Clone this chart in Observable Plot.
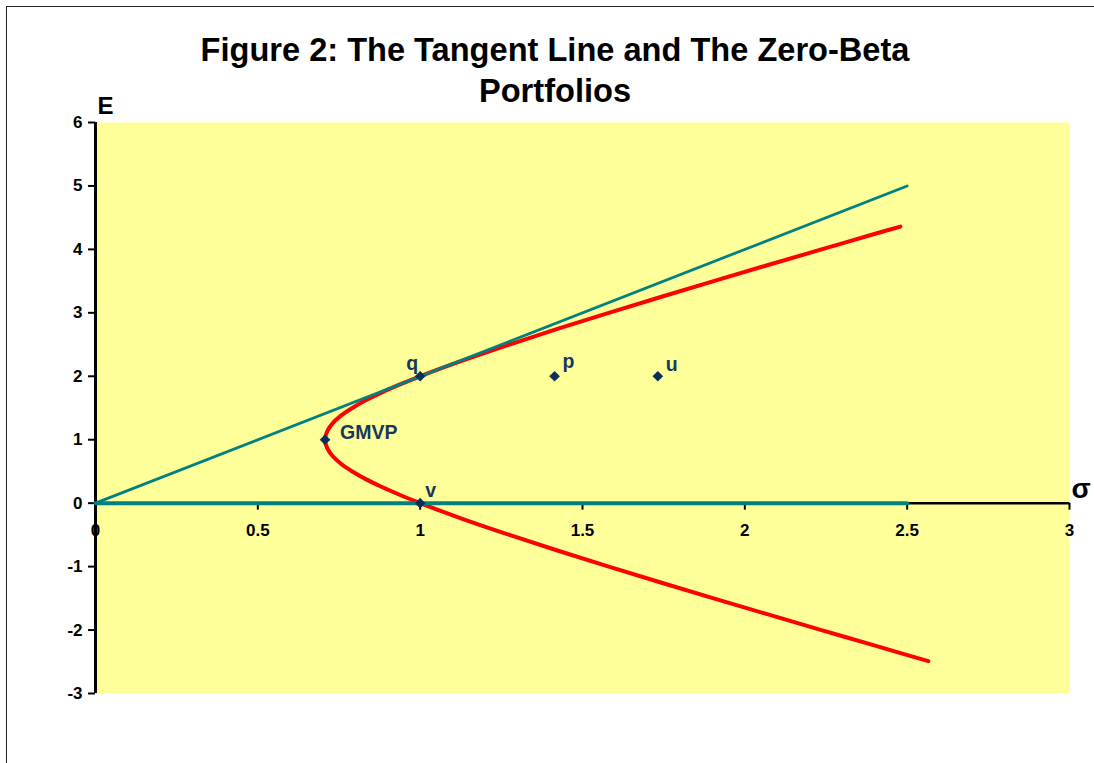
<!DOCTYPE html>
<html>
<head>
<meta charset="utf-8">
<script src="https://cdn.jsdelivr.net/npm/d3@7"></script>
<script src="https://cdn.jsdelivr.net/npm/@observablehq/plot@0.6"></script>
<style>
  body { margin: 0; background: white; }
  #wrap { position: relative; width: 1094px; height: 763px; overflow: hidden; background: white; }
  #border { position: absolute; left: 6px; top: 6px; width: 1200px; height: 900px; border: 1.5px solid #222; }
  #chart { position: absolute; left: 0; top: 0; }
  #title { position: absolute; left: 0; top: 29px; width: 1110px; text-align: center;
           font-family: "Liberation Sans", Arial, sans-serif; font-weight: bold; font-size: 32.6px; line-height: 41px; color: #000; }
</style>
</head>
<body>
<div id="wrap">
  <div id="border"></div>
  <div id="chart"></div>
  <div id="title">Figure 2: The Tangent Line and The Zero-Beta<br>Portfolios</div>
</div>
<script>
// ---- data ----
const frontierSigma = [2.479, 2.404, 2.236, 2.069, 1.904, 1.741, 1.581, 1.425, 1.275, 1.132,
  1.0, 0.940, 0.884, 0.834, 0.791, 0.755, 0.729, 0.713, 0.707,
  0.713, 0.729, 0.755, 0.791, 0.834, 0.884, 0.940, 1.0,
  1.132, 1.275, 1.425, 1.581, 1.741, 1.904, 2.069, 2.236, 2.404, 2.565];
const frontierE = [4.36, 4.25, 4.0, 3.75, 3.5, 3.25, 3.0, 2.75, 2.5, 2.25,
  2.0, 1.875, 1.75, 1.625, 1.5, 1.375, 1.25, 1.125, 1.0,
  0.875, 0.75, 0.625, 0.5, 0.375, 0.25, 0.125, 0.0,
  -0.25, -0.5, -0.75, -1.0, -1.25, -1.5, -1.75, -2.0, -2.25, -2.49];

const tangentSigma = [0, 2.5];
const tangentE = [0, 5];

const zeroBetaSigma = [0, 2.5];
const zeroBetaE = [0, 0];

const pointNames = ["q", "p", "u", "GMVP", "v"];
const pointSigma = [1.0, 1.414, 1.732, 0.707, 1.0];
const pointE = [2, 2, 2, 1, 0];

const xTicks = [0, 0.5, 1, 1.5, 2, 2.5, 3];
const yTicks = [-3, -2, -1, 0, 1, 2, 3, 4, 5, 6];

const xLabel = "σ";
const yLabel = "E";

// ---- tables ----
const frontier = frontierE.map((e, i) => ({s: frontierSigma[i], e}));
const tangent = tangentE.map((e, i) => ({s: tangentSigma[i], e}));
const zeroBeta = zeroBetaE.map((e, i) => ({s: zeroBetaSigma[i], e}));
const points = pointNames.map((name, i) => ({name, s: pointSigma[i], e: pointE[i]}));

// label placement styles
const labelStyle = {
  q:    {dx: -2, dy: -6, textAnchor: "end"},
  p:    {dx: 8,  dy: -8, textAnchor: "start"},
  u:    {dx: 8,  dy: -5, textAnchor: "start"},
  GMVP: {dx: 15, dy: -1, textAnchor: "start"},
  v:    {dx: 5,  dy: -6, textAnchor: "start"}
};

const teal = "#008080";
const red = "#ff0000";
const navy = "#0b2f5b";
const font = "Liberation Sans, Arial, sans-serif";

const labelMarks = pointNames.map(n => Plot.text(points.filter(d => d.name === n), {
  x: "s", y: "e", text: "name",
  fill: "#17375e", fontSize: 19.5, fontWeight: "bold",
  lineAnchor: "bottom", ...labelStyle[n]
}));

const chart = Plot.plot({
  width: 1094,
  height: 763,
  marginLeft: 95,
  marginRight: 25,
  marginTop: 122,
  marginBottom: 70,
  style: {background: "transparent", fontFamily: font, fontWeight: "bold", color: "black"},
  x: {domain: [0, 3], axis: null},
  y: {domain: [-3, 6], axis: null},
  marks: [
    Plot.frame({fill: "#ffff99", stroke: "none"}),
    // axes
    Plot.ruleY(yTicks, {y: d => d, x1: 0, x2: 0, insetLeft: -7, stroke: "black", strokeWidth: 2}),
    Plot.text(yTicks, {y: d => d, x: 0, text: d => String(d), dx: -13, textAnchor: "end", fontSize: 17, fontWeight: "bold", fill: "black"}),
    Plot.ruleY([0], {x1: 0, x2: 3, stroke: "black", strokeWidth: 2.5}),
    Plot.ruleX(xTicks, {x: d => d, y1: 0, y2: 0, insetBottom: -7, stroke: "black", strokeWidth: 2}),
    Plot.text(xTicks, {x: d => d, y: 0, text: d => String(d), dy: 27, fontSize: 17, fontWeight: "bold", fill: "black"}),
    Plot.ruleX([0], {stroke: "black", strokeWidth: 3}),
    Plot.text([yLabel], {frameAnchor: "top-left", text: d => d, dx: 2, dy: -9, lineAnchor: "bottom", textAnchor: "start", fontSize: 24, fontWeight: "bold", fill: "black"}),
    Plot.text([xLabel], {x: 3, y: 0, text: d => d, dx: 2, dy: -5, lineAnchor: "bottom", textAnchor: "start", fontSize: 28, fontWeight: "bold", fill: "black"}),
    // series
    Plot.line(frontier, {x: "s", y: "e", stroke: red, strokeWidth: 4, curve: "catmull-rom"}),
    Plot.line(tangent, {x: "s", y: "e", stroke: teal, strokeWidth: 2.8}),
    Plot.line(zeroBeta, {x: "s", y: "e", stroke: teal, strokeWidth: 4}),
    Plot.dot(points, {x: "s", y: "e", symbol: "diamond2", r: 4.8, fill: navy, stroke: "none"}),
    ...labelMarks
  ]
});
document.getElementById("chart").appendChild(chart);
</script>
</body>
</html>
